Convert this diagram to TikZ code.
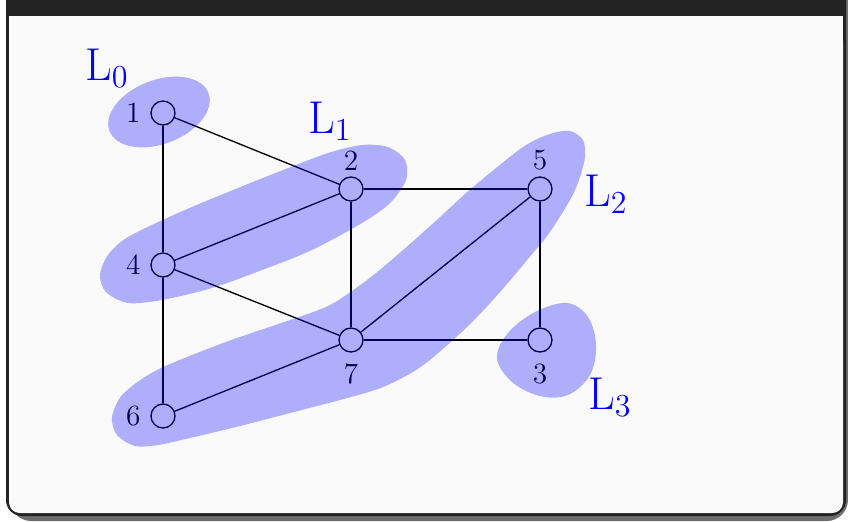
\documentclass[tikz,border=0pt]{standalone}
\definecolor{framec}{HTML}{232323}
\definecolor{backc}{HTML}{FAFAFA}
\definecolor{shadc}{HTML}{6E6E6E}
\begin{document}
\begin{tikzpicture}[x=0.375pt,y=-0.375pt,
  vtx/.style={circle, draw, minimum size=9pt, inner sep=0pt, line width=0.5pt},
  edge/.style={line width=0.5pt},
  lab/.style={font=\fontsize{11}{13}\selectfont, inner sep=2pt},
  blob/.style={fill=blue, fill opacity=0.3, draw=none},
  lvl/.style={text=blue, font=\fontsize{16.5}{20}\selectfont, inner sep=0pt}]
\useasboundingbox (0,0) rectangle (848,521);
% frame
\fill[shadc, rounded corners=8pt] (10,-20) rectangle (848,521);
\fill[framec, rounded corners=6pt] (6,-20) rectangle (846,516);
\fill[backc, rounded corners=4pt] (9,30) rectangle (843,513);
\fill[backc] (9,16) rectangle (843,40);
% vertices
\node[vtx, label={[lab, label distance=1.5pt]left:1}] (v1) at (163,113) {};
\node[vtx, label={[lab]above:2}] (v2) at (351,189) {};
\node[vtx, label={[lab]above:5}] (v5) at (540,189) {};
\node[vtx, label={[lab, label distance=1.5pt]left:4}] (v4) at (163,265) {};
\node[vtx, label={[lab, label distance=2pt]below:7}] (v7) at (351,340) {};
\node[vtx, label={[lab, label distance=2pt]below:3}] (v3) at (540,340) {};
\node[vtx, label={[lab, label distance=1.5pt]left:6}] (v6) at (163,416) {};
% edges
\draw[edge] (v1) -- (v2);
\draw[edge] (v1) -- (v4);
\draw[edge] (v4) -- (v2);
\draw[edge] (v2) -- (v5);
\draw[edge] (v2) -- (v7);
\draw[edge] (v4) -- (v7);
\draw[edge] (v4) -- (v6);
\draw[edge] (v6) -- (v7);
\draw[edge] (v7) -- (v5);
\draw[edge] (v7) -- (v3);
\draw[edge] (v5) -- (v3);
% level blobs
% L0
\fill[blob, shift={(159,112)}, rotate=21] (0,0) ellipse [x radius=53, y radius=32];
% L1
\fill[blob] plot[smooth cycle, tension=0.5] coordinates {
  (100,275) (108,255) (128,237) (178,213) (228,192) (278,172) (328,153) (362,145)
  (388,147) (405,160) (406,180) (390,203) (362,223) (312,250) (262,270) (212,288)
  (162,300) (128,303) (106,292)};
% L2
\fill[blob] plot[smooth cycle, tension=0.5] coordinates {
  (112,417) (123,394) (157,370) (223,343) (290,320) (330,305) (367,280) (402,251)
  (440,217) (473,187) (523,147) (550,134) (570,131) (583,140) (585,157) (579,180)
  (570,200) (550,232) (533,253) (500,292) (467,327) (422,366) (383,387) (340,400)
  (290,413) (240,426) (190,438) (158,445) (135,446) (117,435)};
% L3
\fill[blob] plot[smooth cycle, tension=0.6] coordinates {(567,303) (588,317) (596,345) (590,375) (568,395) (540,396) (512,382) (497,358) (508,333) (535,312)};
% level labels
\node[lvl] (l0) at (107,68) {$\mathrm{L}_0$};
\node[lvl] (l1) at (330,121) {$\mathrm{L}_1$};
\node[lvl] (l2) at (606,194) {$\mathrm{L}_2$};
\node[lvl] (l3) at (610,397) {$\mathrm{L}_3$};
\end{tikzpicture}
\end{document}
